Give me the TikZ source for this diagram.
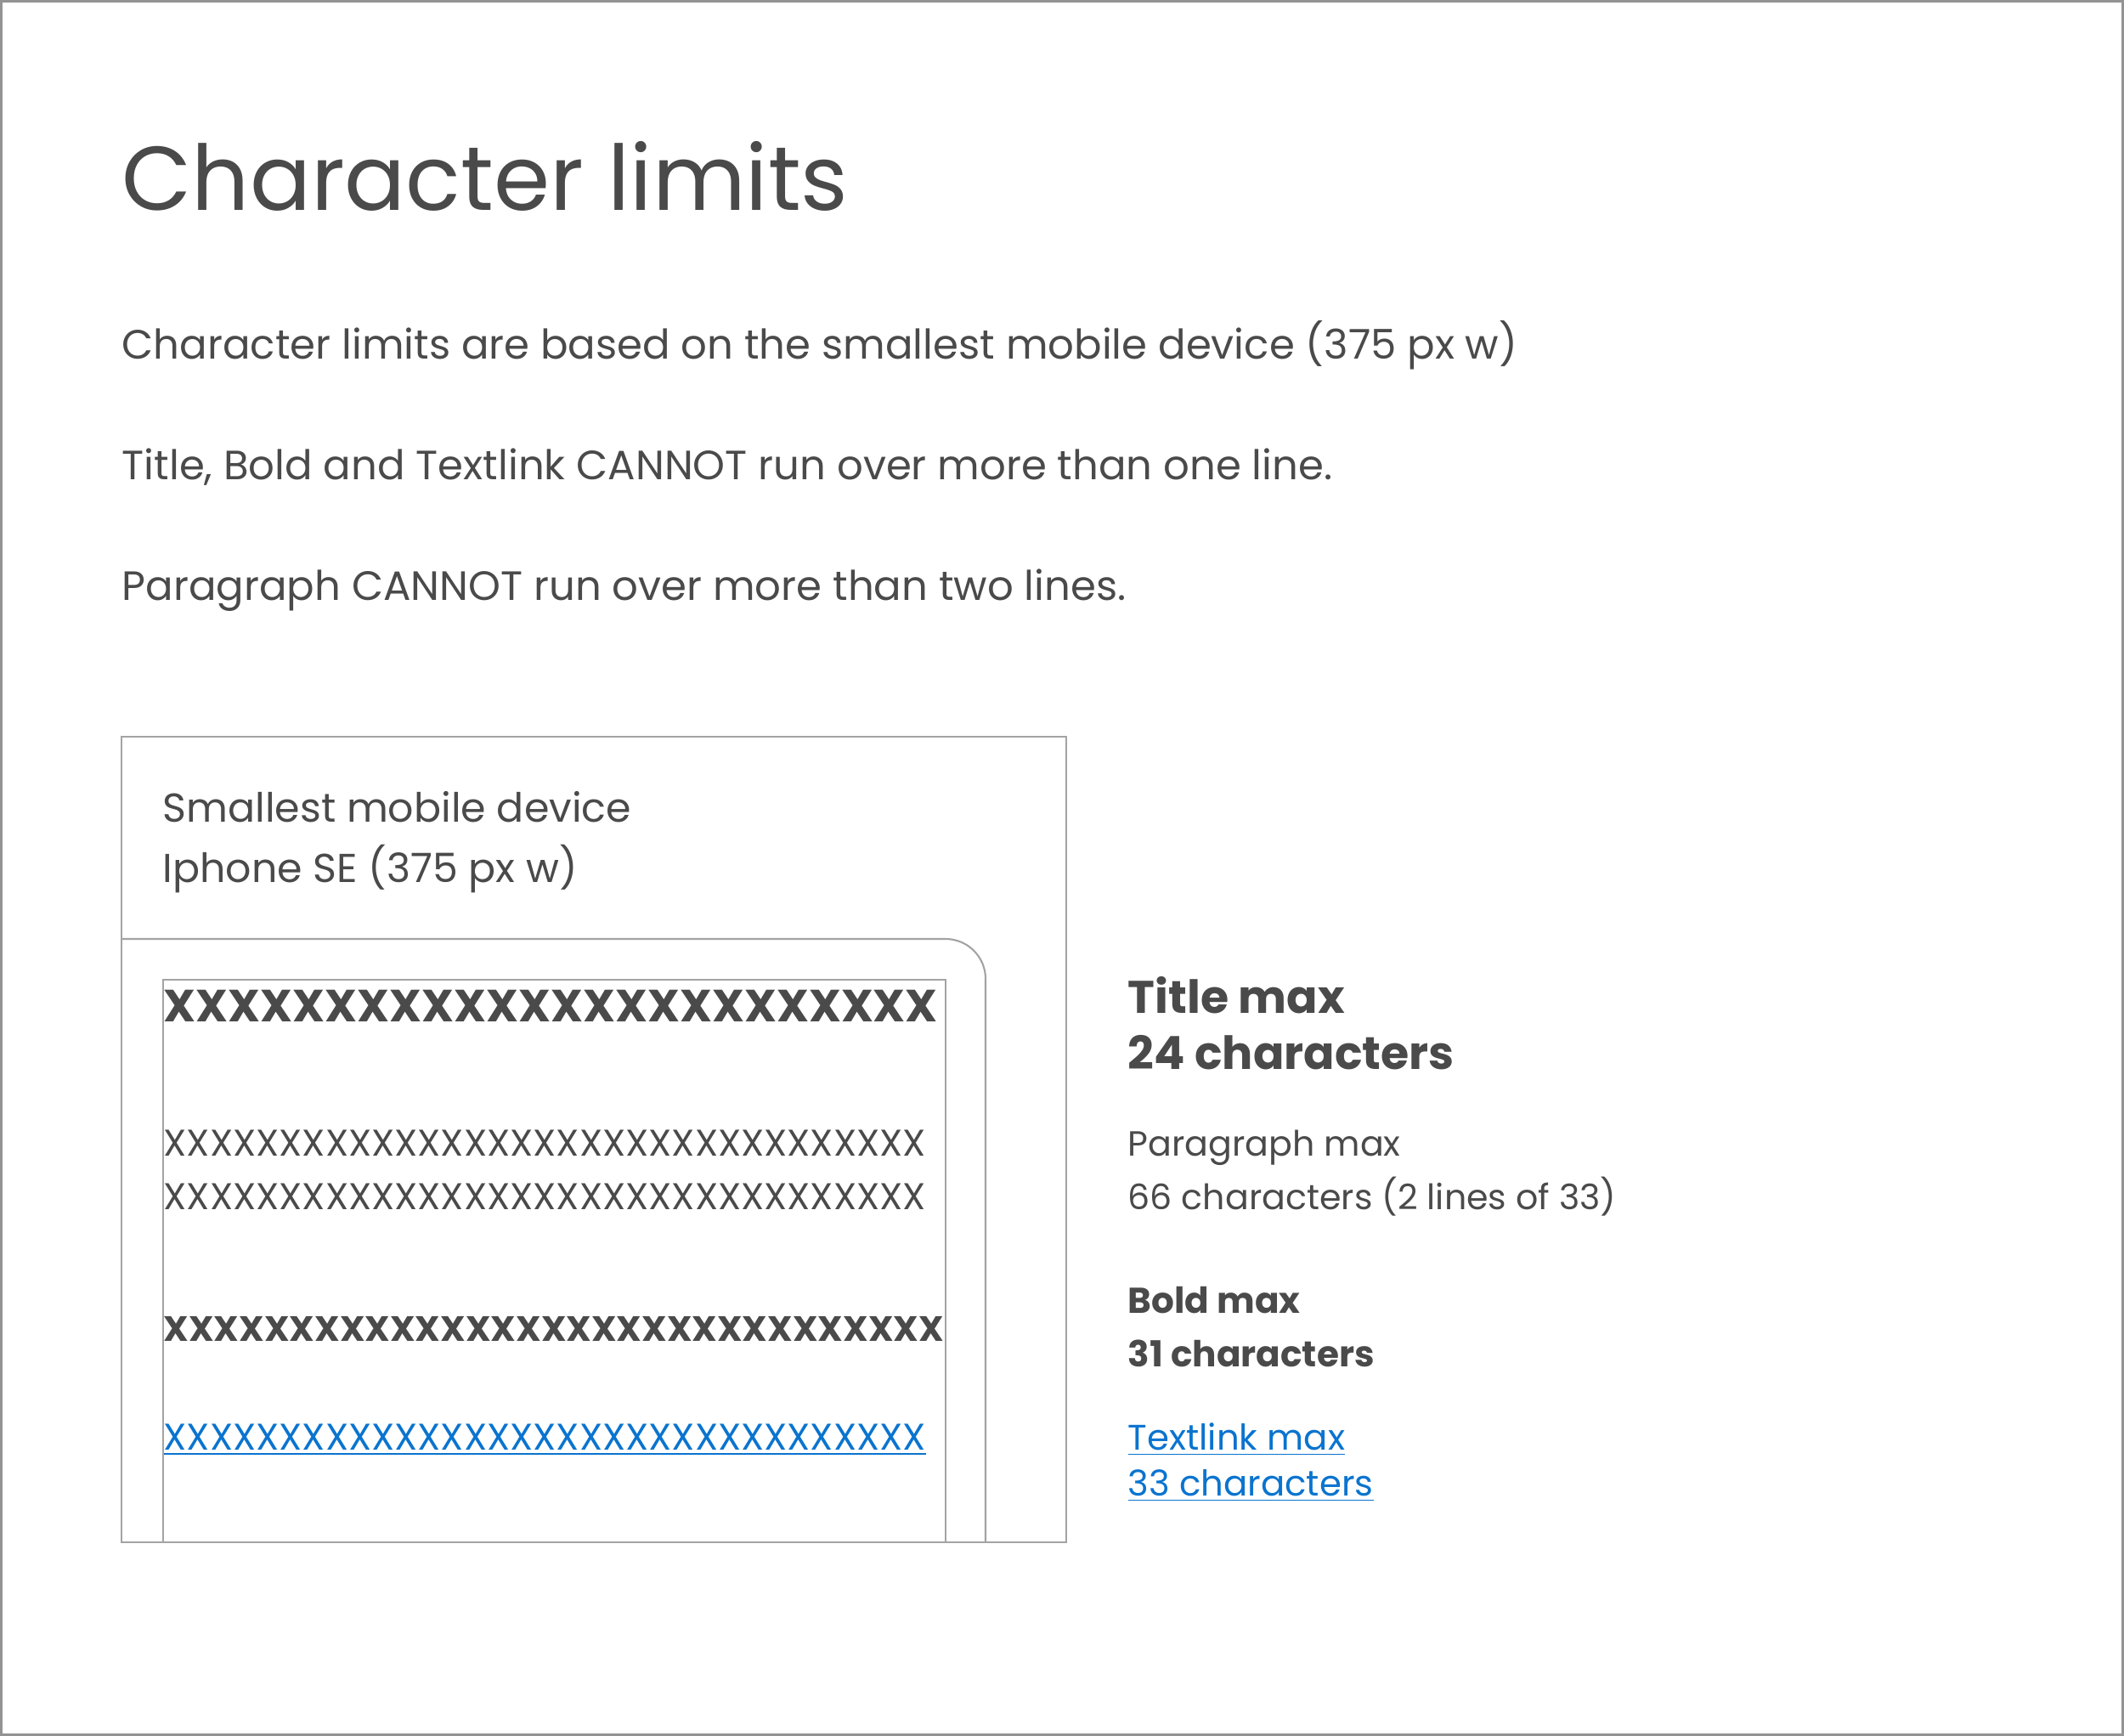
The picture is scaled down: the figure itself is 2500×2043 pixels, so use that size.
\documentclass[tikz,border=0pt]{standalone}
\usepackage{fontspec}
\setmainfont{Poppins}
\definecolor{inkgray}{HTML}{4A4A4A}
\definecolor{rulegray}{HTML}{A3A3A3}
\definecolor{linkblue}{HTML}{0A74CF}
\newcommand{\xrow}[1]{\foreach \n in {1,...,#1}{X}}

\begin{document}
\begin{tikzpicture}[x=0.01cm, y=-0.01cm,
  txt/.style={anchor=base west, inner sep=0, text=inkgray, font=\fontsize{13.7}{16}\selectfont},
  small/.style={txt, font=\fontsize{11.7}{14}\selectfont},
  boldsmall/.style={txt, font=\fontsize{12}{14}\selectfont\bfseries},
  linktxt/.style={small, text=linkblue, font=\fontsize{11.9}{14}\selectfont},
  box/.style={draw=rulegray, line width=0.6pt}]
\useasboundingbox (0,0) rectangle (2500,2043);
\draw[draw=rulegray!90!black, line width=0.85pt] (1.5,1.5) rectangle (2498.5,2041.5);

% heading and notes
\node[txt, font=\fontsize{30.3}{34}\selectfont] (title) at (143,248) {Character limits};
\node[txt] (intro) at (143,423) {Character limits are based on the smallest mobile device (375 px w)};
\node[txt] (oneline) at (143,565) {Title, Bold and Textlink CANNOT run over more than one line.};
\node[txt] (twolines) at (143,707) {Paragraph CANNOT run over more than two lines.};

% device frame
\draw[box] (143,867) rectangle (1255,1815);
\draw[box] (143,1105) -- (1113,1105) arc[start angle=-90, end angle=0, radius=47] -- (1160,1815);
\draw[box] (192,1815) -- (192,1153) -- (1113,1153) -- (1113,1815);
\node[txt, font=\fontsize{13.5}{16}\selectfont] (device) at (191,967) {Smallest mobile device};
\node[txt, font=\fontsize{13.5}{16}\selectfont] (model) at (191,1038) {Iphone SE (375 px w)};

% sample rows
\node[txt, font=\fontsize{15.1}{18}\selectfont\bfseries] (xtitle) at (192,1202) {\xrow{24}};
\node[small, font=\fontsize{12.45}{14}\selectfont] (xpara1) at (192,1360) {\xrow{33}};
\node[small, font=\fontsize{12.45}{14}\selectfont] (xpara2) at (192,1423) {\xrow{33}};
\node[boldsmall, font=\fontsize{11.78}{14}\selectfont\bfseries] (xbold) at (192,1578) {\xrow{31}};
\node[linktxt, font=\fontsize{12.45}{14}\selectfont] (xlink) at (192,1706) {\underline{\xrow{33}}};

% limits
\node[txt, font=\fontsize{15.3}{19}\selectfont\bfseries] (titlemax) at (1327,1192) {Title max};
\node[txt, font=\fontsize{15.3}{19}\selectfont\bfseries] (titlenum) at (1327,1258) {24 characters};
\node[small] (paramax) at (1327,1360) {Paragraph max};
\node[small] (paranum) at (1327,1423) {66 characters (2 lines of 33)};
\node[boldsmall] (boldmax) at (1327,1545) {Bold max};
\node[boldsmall] (boldnum) at (1327,1608) {31 characters};
\node[linktxt] (linkmax) at (1327,1706) {\underline{Textlink max}};
\node[linktxt] (linknum) at (1327,1760) {\underline{33 characters}};
\end{tikzpicture}
\end{document}
